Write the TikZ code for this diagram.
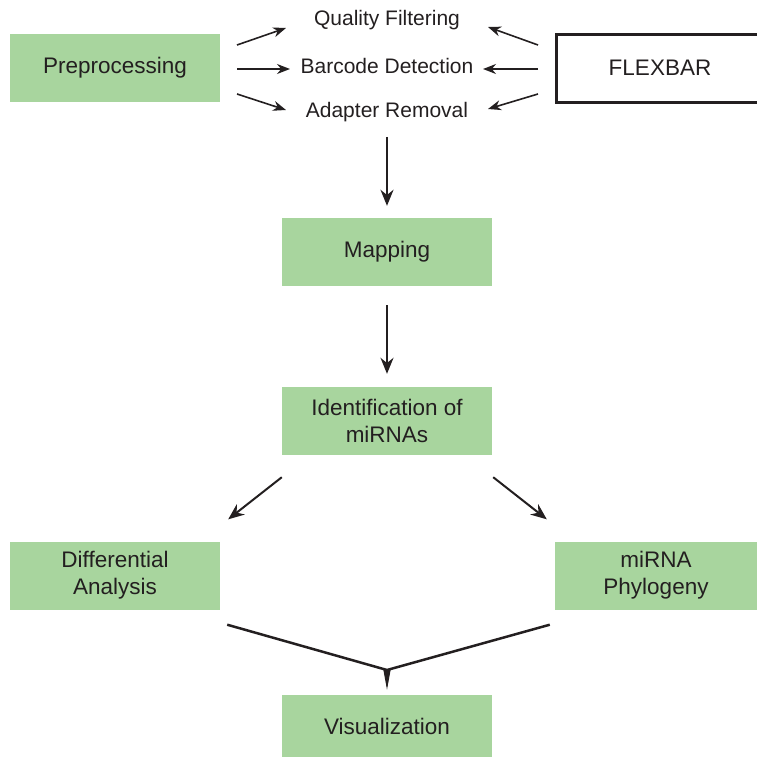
\documentclass[tikz,border=0pt]{standalone}
\usepackage{fontspec}
\setmainfont{Liberation Sans}
\usetikzlibrary{arrows.meta,calc}
\definecolor{boxgreen}{RGB}{168,213,158}
\definecolor{ink}{RGB}{35,31,32}
\begin{document}
\begin{tikzpicture}[x=1pt,y=-1pt,
  stagebox/.style={fill=boxgreen, minimum width=210pt, minimum height=68pt,
    inner sep=0pt, align=center, text=ink, font=\fontsize{22.5}{27}\selectfont},
  toollabel/.style={text=ink, inner sep=1pt, font=\fontsize{21}{25}\selectfont},
  flow/.style={draw=ink, line width=2pt, -{Stealth[length=16pt,width=13pt]}},
  thin/.style={draw=ink, line width=1.6pt, -{Stealth[length=13pt,width=10pt]}},
  merge/.style={draw=ink, line width=2.5pt}]
\useasboundingbox (0,0) rectangle (757,758);
\begin{scope}
\clip (0,0) rectangle (757,758);
% tool box, open at the right margin
\node[draw=ink, line width=3pt, minimum width=208pt, minimum height=68pt,
  inner sep=0pt, text=ink, font=\fontsize{22.5}{27}\selectfont]
  (flex) at (660,68) {FLEXBAR};
\end{scope}

% stage boxes
\node[stagebox] (pre)  at (115,68)  {Preprocessing};
\node[stagebox] (map)  at (387,252) {Mapping};
\node[stagebox] (ident) at (387,421) {Identification of\\miRNAs};
\node[stagebox] (diff) at (115,575.5) {Differential\\Analysis};
\node[stagebox, minimum width=202pt] (phylo) at (656,575.5) {miRNA\\Phylogeny};
\node[stagebox, minimum height=62pt] (vis) at (387,726) {Visualization};

% preprocessing steps
\node[toollabel] (qual) at (387,20)  {Quality Filtering};
\node[toollabel] (bar)  at (387,66)  {Barcode Detection};
\node[toollabel] (adap) at (387,112) {Adapter Removal};

% free ends of the step arrows
\coordinate (p1) at (237,45);
\coordinate (p2) at (237,69);
\coordinate (p3) at (237,94);
\coordinate (f1) at (538,45);
\coordinate (f2) at (538,69);
\coordinate (f3) at (538,94);

\draw[thin] (p1) -- (286,28);
\draw[thin] (p2) -- (290,69);
\draw[thin] (p3) -- (286,110);
\draw[thin] (f1) -- (488,27);
\draw[thin] (f2) -- (483,69);
\draw[thin] (f3) -- (488,109);

% main flow
\draw[flow] ($(adap.south)+(0,14)$) -- ($(map.north)+(0,-12)$);
\draw[flow] ($(map.south)+(0,19)$) -- ($(ident.north)+(0,-13)$);
\draw[flow] ($(ident.south west)+(0,22)$) -- ($(diff.north east)+(8,-22)$);
\draw[flow] ($(ident.south east)+(1,22)$) -- ($(phylo.north west)+(-8,-22)$);

% merge into visualization
\coordinate (m) at (387,670);
\draw[merge] ($(diff.south east)+(7,15)$) -- (m) -- ($(phylo.south west)+(-5,15)$);
\draw[draw=ink, line width=1pt, -{Triangle[length=20pt,width=7pt]}] (m) -- ($(vis.north)+(0,-5)$);
\end{tikzpicture}
\end{document}
